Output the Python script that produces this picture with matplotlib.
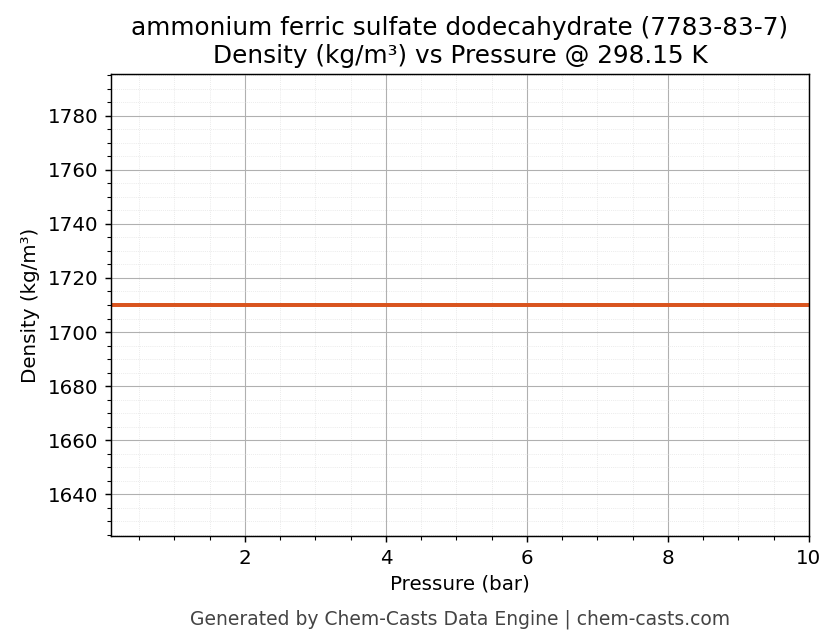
import matplotlib
matplotlib.use("Agg")
import matplotlib.pyplot as plt
from matplotlib.ticker import AutoMinorLocator

pressure = [0.1, 10.0]
density = [1710.0, 1710.0]

plt.rcParams["font.size"] = 11

fig, ax = plt.subplots(figsize=(836/130, 644/130), dpi=130)
ax.plot(pressure, density, color="#d9541e", linewidth=2.2)
ax.set_xlim(0.1, 10)
ax.set_ylim(1624.5, 1795.5)
ax.xaxis.set_minor_locator(AutoMinorLocator())
ax.yaxis.set_minor_locator(AutoMinorLocator())
ax.grid(which="major", color="#b0b0b0", linewidth=0.6)
ax.grid(which="minor", color="#dddddd", linewidth=0.4, linestyle=":")
ax.set_xlabel("Pressure (bar)")
ax.set_ylabel("Density (kg/m³)")
ax.set_title("ammonium ferric sulfate dodecahydrate (7783-83-7)\nDensity (kg/m³) vs Pressure @ 298.15 K",
             fontsize=13.7)
fig.subplots_adjust(left=111/836, right=809/836, top=1-74/644, bottom=1-536/644)
fig.text(0.55, 0.03, "Generated by Chem-Casts Data Engine | chem-casts.com",
         ha="center", fontsize=10.4, color="#444444")
fig.savefig("out.png", dpi=130)
